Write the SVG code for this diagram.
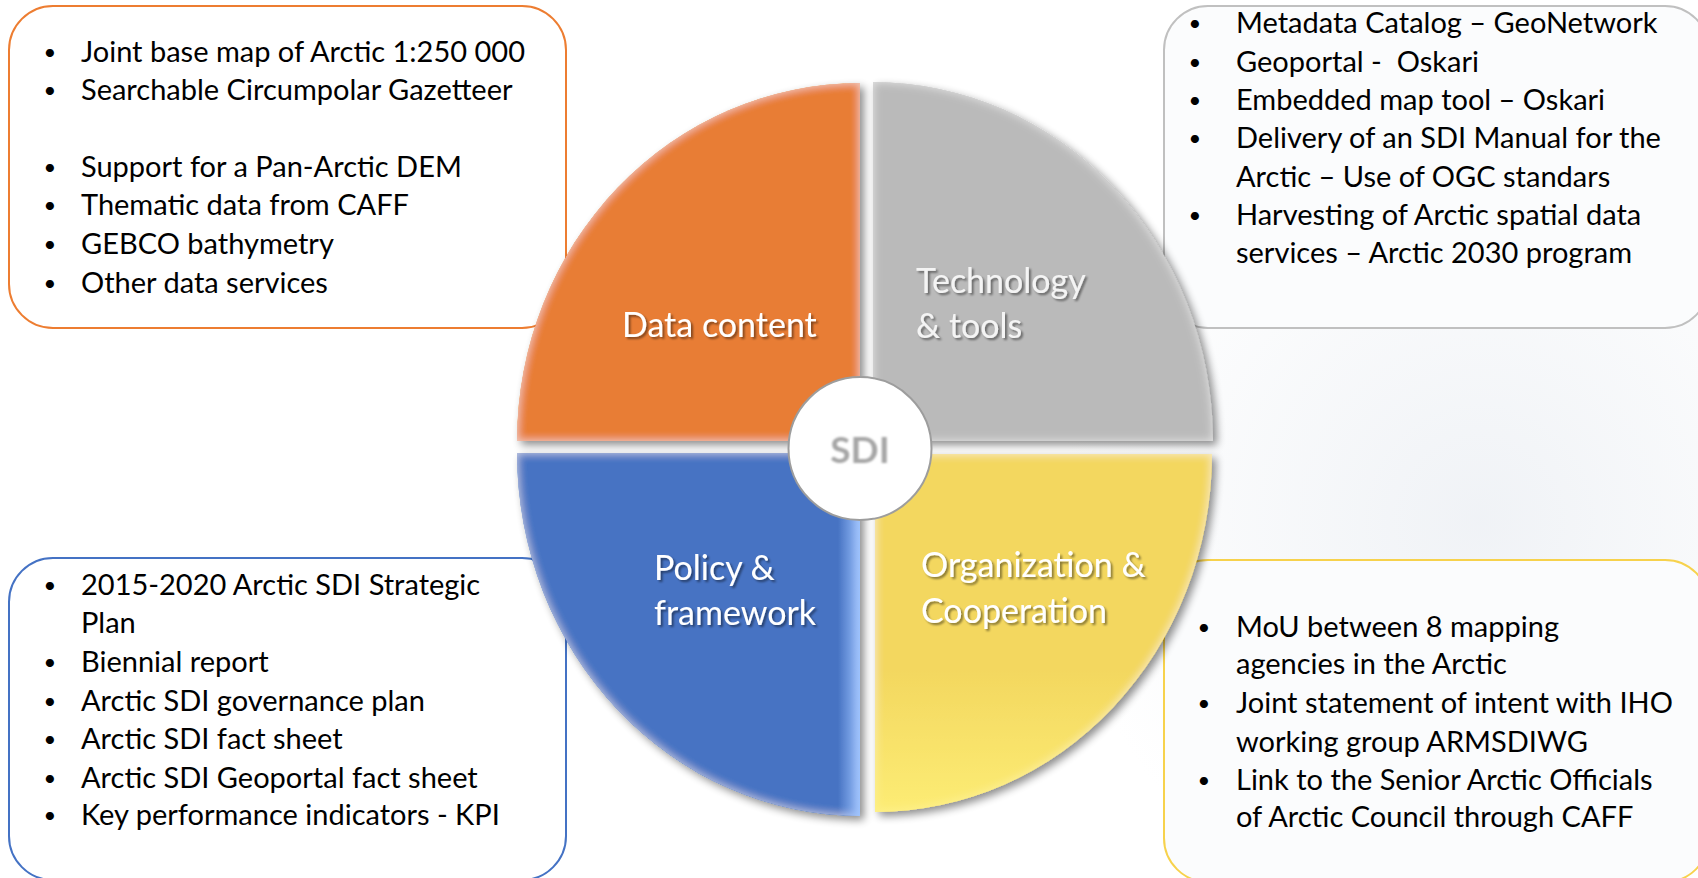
<svg xmlns="http://www.w3.org/2000/svg" width="1698" height="878" viewBox="0 0 1698 878">
  <defs>
    <style>
      .box { fill: #ffffff; stroke-width: 2; }
      .box-o { stroke: #ed7d31; }
      .box-g { stroke: #c0c0c0; fill: #fbfcfd; }
      .box-b { stroke: #4472c4; }
      .box-y { stroke: #f7d24c; fill: #fbfcfd; }
      .item { font-family: Lato, "Liberation Sans", sans-serif; font-size: 29px; fill: #000000; }
      .dot { font-family: Lato, "Liberation Sans", sans-serif; font-size: 22px; fill: #000000; text-anchor: middle; }
      .label { font-family: Lato, "Liberation Sans", sans-serif; font-size: 34px; fill: #ffffff; }
      .label-g { fill: #f4f4f4; }
      .hub { font-family: Lato, "Liberation Sans", sans-serif; font-size: 37px; font-weight: bold; fill: #a6a6a6; }
    </style>
    <filter id="shadow" x="-10%" y="-10%" width="125%" height="125%">
      <feGaussianBlur in="SourceAlpha" stdDeviation="4"/>
      <feOffset dx="4" dy="4" result="off"/>
      <feComponentTransfer><feFuncA type="linear" slope="0.45"/></feComponentTransfer>
      <feMerge><feMergeNode/><feMergeNode in="SourceGraphic"/></feMerge>
    </filter>
    <filter id="bevel" x="-5%" y="-5%" width="110%" height="110%">
      <feGaussianBlur in="SourceAlpha" stdDeviation="5" result="b"/>
      <feComposite in="SourceAlpha" in2="b" operator="arithmetic" k2="1" k3="-1" result="edge"/>
      <feFlood flood-color="#ffffff" flood-opacity="0.55"/>
      <feComposite in2="edge" operator="in" result="glow"/>
      <feMerge><feMergeNode in="SourceGraphic"/><feMergeNode in="glow"/></feMerge>
    </filter>
    <filter id="txtShadow" x="-10%" y="-30%" width="120%" height="160%">
      <feGaussianBlur in="SourceAlpha" stdDeviation="1.2"/>
      <feOffset dx="1.5" dy="1.5"/>
      <feComponentTransfer><feFuncA type="linear" slope="0.45"/></feComponentTransfer>
      <feMerge><feMergeNode/><feMergeNode in="SourceGraphic"/></feMerge>
    </filter>
    <filter id="soft"><feGaussianBlur stdDeviation="1"/></filter>
    <linearGradient id="blueEdge" x1="0" y1="0" x2="1" y2="0">
      <stop offset="0" stop-color="#9cc3ff" stop-opacity="0"/>
      <stop offset="1" stop-color="#9cc3ff" stop-opacity="0.95"/>
    </linearGradient>
    <linearGradient id="yellowGlow" x1="0" y1="0" x2="0" y2="1">
      <stop offset="0.6" stop-color="#fff27a" stop-opacity="0"/>
      <stop offset="1" stop-color="#fff27a" stop-opacity="0.8"/>
    </linearGradient>
    <radialGradient id="haze" cx="0.5" cy="0.5" r="0.5">
      <stop offset="0" stop-color="#eef1f5" stop-opacity="0.9"/>
      <stop offset="1" stop-color="#eef1f5" stop-opacity="0"/>
    </radialGradient>
    <clipPath id="clipBlue"><path d="M 860 453 L 860 816 A 343 363 0 0 1 517 453 Z"/></clipPath>
    <clipPath id="clipYellow"><path d="M 875 454 L 1212 454 A 337 358 0 0 1 875 812 Z"/></clipPath>
  </defs>

  <!-- page background with faint haze on the right -->
  <rect x="0" y="0" width="1698" height="878" fill="#ffffff"/>
  <ellipse cx="1480" cy="520" rx="420" ry="420" fill="url(#haze)"/>

  <!-- text boxes (drawn under the wheel) -->
  <g id="box-data">
    <rect class="box box-o" x="9" y="6" width="557" height="322" rx="44"/>
    <text class="dot" x="50" y="60">•</text><text class="item" x="81" y="62">Joint base map of Arctic 1:250 000</text>
    <text class="dot" x="50" y="98">•</text><text class="item" x="81" y="100">Searchable Circumpolar Gazetteer</text>
    <text class="dot" x="50" y="175">•</text><text class="item" x="81" y="177">Support for a Pan-Arctic DEM</text>
    <text class="dot" x="50" y="213">•</text><text class="item" x="81" y="215">Thematic data from CAFF</text>
    <text class="dot" x="50" y="252">•</text><text class="item" x="81" y="254">GEBCO bathymetry</text>
    <text class="dot" x="50" y="291">•</text><text class="item" x="81" y="293">Other data services</text>
  </g>

  <g id="box-tech">
    <rect class="box box-g" x="1164" y="6" width="545" height="322" rx="44"/>
    <text class="dot" x="1195" y="31">•</text><text class="item" x="1236" y="33">Metadata Catalog – GeoNetwork</text>
    <text class="dot" x="1195" y="70">•</text><text class="item" x="1236" y="72" xml:space="preserve">Geoportal -  Oskari</text>
    <text class="dot" x="1195" y="108">•</text><text class="item" x="1236" y="110">Embedded map tool – Oskari</text>
    <text class="dot" x="1195" y="146">•</text><text class="item" x="1236" y="148">Delivery of an SDI Manual for the</text>
    <text class="item" x="1236" y="187">Arctic – Use of OGC standars</text>
    <text class="dot" x="1195" y="223">•</text><text class="item" x="1236" y="225">Harvesting of Arctic spatial data</text>
    <text class="item" x="1236" y="263">services – Arctic 2030 program</text>
  </g>

  <g id="box-policy">
    <rect class="box box-b" x="9" y="558" width="557" height="322" rx="44"/>
    <text class="dot" x="50" y="593">•</text><text class="item" x="81" y="595">2015-2020 Arctic SDI Strategic</text>
    <text class="item" x="81" y="633">Plan</text>
    <text class="dot" x="50" y="670">•</text><text class="item" x="81" y="672">Biennial report</text>
    <text class="dot" x="50" y="709">•</text><text class="item" x="81" y="711">Arctic SDI governance plan</text>
    <text class="dot" x="50" y="747">•</text><text class="item" x="81" y="749">Arctic SDI fact sheet</text>
    <text class="dot" x="50" y="786">•</text><text class="item" x="81" y="788">Arctic SDI Geoportal fact sheet</text>
    <text class="dot" x="50" y="823">•</text><text class="item" x="81" y="825">Key performance indicators - KPI</text>
  </g>

  <g id="box-org">
    <rect class="box box-y" x="1164" y="560" width="545" height="322" rx="44"/>
    <text class="dot" x="1204" y="635">•</text><text class="item" x="1236" y="637">MoU between 8 mapping</text>
    <text class="item" x="1236" y="674">agencies in the Arctic</text>
    <text class="dot" x="1204" y="711">•</text><text class="item" x="1236" y="713">Joint statement of intent with IHO</text>
    <text class="item" x="1236" y="752">working group ARMSDIWG</text>
    <text class="dot" x="1204" y="788">•</text><text class="item" x="1236" y="790">Link to the Senior Arctic Officials</text>
    <text class="item" x="1236" y="827">of Arctic Council through CAFF</text>
  </g>

  <!-- four-part wheel -->
  <g id="wheel" filter="url(#shadow)">
    <g id="seg-data">
      <path d="M 860 441 L 517 441 A 343 358 0 0 1 860 83 Z" fill="#e87d36" filter="url(#bevel)"/>
    </g>
    <g id="seg-tech">
      <path d="M 873 441 L 873 82 A 340 359 0 0 1 1213 441 Z" fill="#bababa" filter="url(#bevel)"/>
    </g>
    <g id="seg-policy">
      <path d="M 860 453 L 860 816 A 343 363 0 0 1 517 453 Z" fill="#4673c3" filter="url(#bevel)"/>
      <rect x="838" y="453" width="22" height="363" fill="url(#blueEdge)" clip-path="url(#clipBlue)"/>
    </g>
    <g id="seg-org">
      <path d="M 875 454 L 1212 454 A 337 358 0 0 1 875 812 Z" fill="#f3d75e" filter="url(#bevel)"/>
      <rect x="875" y="454" width="337" height="358" fill="url(#yellowGlow)" clip-path="url(#clipYellow)"/>
    </g>
  </g>

  <!-- quadrant labels -->
  <g id="labels" filter="url(#txtShadow)">
    <text class="label" x="622" y="337">Data content</text>
    <text class="label label-g" x="916" y="293">Technology</text>
    <text class="label label-g" x="916" y="338">&amp; tools</text>
    <text class="label" x="654" y="580">Policy &amp;</text>
    <text class="label" x="654" y="625">framework</text>
    <text class="label" x="921" y="577">Organization &amp;</text>
    <text class="label" x="921" y="623">Cooperation</text>
  </g>

  <!-- hub -->
  <g id="hub">
    <circle cx="860" cy="448.5" r="71.5" fill="#ffffff" stroke="#9d9d9d" stroke-width="2"/>
    <text class="hub" x="860" y="463" text-anchor="middle" filter="url(#soft)">SDI</text>
  </g>
</svg>
